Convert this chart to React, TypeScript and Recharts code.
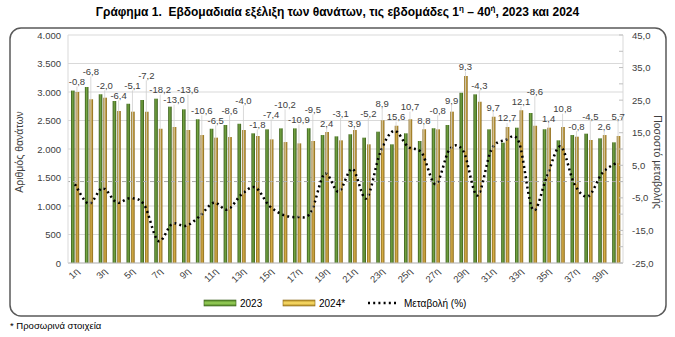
import React from "react";
import { ComposedChart, Bar, Line, XAxis, YAxis, CartesianGrid, ReferenceLine } from "recharts";

const weeks = ["1η","2η","3η","4η","5η","6η","7η","8η","9η","10η","11η","12η","13η","14η","15η","16η","17η","18η","19η","20η","21η","22η","23η","24η","25η","26η","27η","28η","29η","30η","31η","32η","33η","34η","35η","36η","37η","38η","39η","40η"];
const deaths2023 = [3025,3088,2959,2842,2795,2860,2883,2743,2696,2520,2357,2421,2444,2275,2345,2362,2362,2362,2245,2222,2257,2199,2304,2082,2275,2140,2362,2421,2988,2959,2345,2111,2374,2630,2345,2152,2245,2269,2187,2117];
const deaths2024 = [3000,2871,2900,2667,2655,2655,2357,2386,2333,2245,2199,2210,2333,2228,2169,2122,2099,2140,2298,2152,2333,2082,2503,2410,2520,2345,2345,2655,3281,2830,2567,2386,2678,2410,2374,2386,2216,2158,2245,2228];
const pctChange = [-0.8,-6.8,-2.0,-6.4,-5.1,-7.2,-18.2,-13.0,-13.6,-10.6,-6.5,-8.6,-4.0,-1.8,-7.4,-10.2,-10.9,-9.5,2.4,-3.1,3.9,-5.2,8.9,15.6,10.7,8.8,-0.8,9.9,9.3,-4.3,9.7,12.7,12.1,-8.6,1.4,10.8,-0.8,-4.5,2.6,5.7];
const leftTicks = [0,500,1000,1500,2000,2500,3000,3500,4000];
const rightTicks = [-25,-20,-15,-10,-5,0,5,10,15,20,25,30,35,40,45];
const rightLabelled = [-25,-15,-5,5,15,25,35,45];

const W = 675, H = 337;
const PL = 68, PR = 623, PT = 35, PB = 263;
const LW = 50, RW = 45, XH = 30;
const FONT = "'Liberation Sans', Arial, sans-serif";
const TXT = "#404040";
const LABEL_SEP = 10;

const data = weeks.map((w, i) => ({ week: w, d2023: deaths2023[i], d2024: deaths2024[i], pct: pctChange[i] }));

const yLeft = (v: number) => PB - (v / 4000) * (PB - PT);

// Stagger data labels (centre y) so that neighbouring labels do not collide.
const labelY: number[] = [];
weeks.forEach((_, i) => {
  const top = yLeft(Math.max(deaths2023[i], deaths2024[i]));
  let y = top - 9;
  if (i > 0) {
    const prev = labelY[i - 1];
    if (Math.abs(y - prev) < LABEL_SEP) {
      if (prev + LABEL_SEP <= top - 5) y = prev + LABEL_SEP;
      else y = prev - LABEL_SEP;
    }
  }
  labelY.push(y);
});

function catmullRom(context: any) {
  let pts: number[][] = [];
  return {
    areaStart() {},
    areaEnd() {},
    lineStart() { pts = []; },
    point(x: number, y: number) { pts.push([+x, +y]); },
    lineEnd() {
      if (!pts.length) return;
      context.moveTo(pts[0][0], pts[0][1]);
      for (let i = 0; i < pts.length - 1; i++) {
        const p0 = pts[i - 1] || pts[i];
        const p1 = pts[i];
        const p2 = pts[i + 1];
        const p3 = pts[i + 2] || p2;
        const c1x = p1[0] + (p2[0] - p0[0]) / 6;
        const c1y = p1[1] + (p2[1] - p0[1]) / 6;
        const c2x = p2[0] - (p3[0] - p1[0]) / 6;
        const c2y = p2[1] - (p3[1] - p1[1]) / 6;
        context.bezierCurveTo(c1x, c1y, c2x, c2y, p2[0], p2[1]);
      }
    },
  };
}

const fmtThousands = (v: number) =>
  v >= 1000 ? `${Math.floor(v / 1000)}.${String(v % 1000).padStart(3, "0")}` : String(v);
const fmtPct = (v: number) => v.toFixed(1).replace(".", ",");

const LabelDot = (props: any) => {
  const { cx, cy, payload } = props;
  const idx = payload ? weeks.indexOf(payload.week) : -1;
  if (cx == null || cy == null || idx < 0) return <g key={`ld${props.index}`} />;
  const ly = labelY[idx];
  const lx = cx + 2;
  return (
    <g key={`ld${idx}`}>
      <line x1={lx} x2={lx} y1={ly + 5} y2={cy} stroke="#cfcfcf" strokeWidth={0.8} />
      <text x={lx} y={ly + 3.5} textAnchor="middle" fontSize={9.5} fontFamily={FONT} fill={TXT}>
        {fmtPct(payload.pct)}
      </text>
    </g>
  );
};

const LeftTick = (props: any) => {
  const { y, payload } = props;
  return (
    <text x={PL - 7} y={y + 3.5} textAnchor="end" fontSize={9.5} fontFamily={FONT} fill={TXT}>
      {fmtThousands(payload.value)}
    </text>
  );
};

const RightTick = (props: any) => {
  const { y, payload } = props;
  const v = payload.value;
  return (
    <g>
      <line x1={PR - 4} x2={PR} y1={y} y2={y} stroke="#bfbfbf" strokeWidth={1} />
      {rightLabelled.includes(v) && (
        <text x={PR + 9} y={y + 3.5} textAnchor="start" fontSize={9.5} fontFamily={FONT} fill={TXT}>
          {fmtPct(v)}
        </text>
      )}
    </g>
  );
};

const XTick = (props: any) => {
  const { x, payload } = props;
  return (
    <text
      transform={`translate(${x + 5},${PB + 9}) rotate(-45)`}
      textAnchor="end"
      fontSize={9.5}
      fontFamily={FONT}
      fill={TXT}
    >
      {payload.value}
    </text>
  );
};

export default function App() {
  return (
    <div style={{ position: "absolute", left: 0, top: 0, width: W, height: H, background: "#fff", fontFamily: FONT }}>
      <svg width={W} height={H} style={{ position: "absolute", left: 0, top: 0 }}>
        <rect x={10} y={28} width={656} height={288} rx={11} ry={11} fill="none" stroke="#595959" strokeWidth={1.5} />
      </svg>
      <div
        style={{
          position: "absolute",
          left: 0,
          top: 4,
          width: W,
          textAlign: "center",
          fontSize: 12,
          fontWeight: "bold",
          color: "#000",
          whiteSpace: "nowrap",
        }}
      >
        Γράφημα 1.&nbsp; Εβδομαδιαία εξέλιξη των θανάτων, τις εβδομάδες 1<sup style={{ fontSize: 8 }}>η</sup> – 40<sup style={{ fontSize: 8 }}>ή</sup>, 2023 και 2024
      </div>
      <div style={{ position: "absolute", left: 0, top: 0 }}>
        <ComposedChart
          width={W}
          height={H}
          data={data}
          margin={{ top: PT, right: W - PR - RW, bottom: H - PB - XH, left: PL - LW }}
          barGap={1}
          barSize={3.6}
        >
          <defs>
            <linearGradient id="g23" x1="0" y1="0" x2="1" y2="0">
              <stop offset="0%" stopColor="#375a1b" />
              <stop offset="45%" stopColor="#74a542" />
              <stop offset="100%" stopColor="#375a1b" />
            </linearGradient>
            <linearGradient id="g24" x1="0" y1="0" x2="1" y2="0">
              <stop offset="0%" stopColor="#87671b" />
              <stop offset="45%" stopColor="#d6ae48" />
              <stop offset="100%" stopColor="#87671b" />
            </linearGradient>
          </defs>
          <CartesianGrid yAxisId="left" vertical={false} stroke="#d9d9d9" />
          <XAxis
            dataKey="week"
            height={XH}
            interval={1}
            tickLine={false}
            axisLine={{ stroke: "#bfbfbf" }}
            tick={<XTick />}
          />
          <YAxis
            yAxisId="left"
            width={LW}
            domain={[0, 4000]}
            ticks={leftTicks}
            interval={0}
            tickLine={false}
            axisLine={{ stroke: "#d9d9d9" }}
            tick={<LeftTick />}
          />
          <YAxis
            yAxisId="right"
            orientation="right"
            width={RW}
            domain={[-25, 45]}
            ticks={rightTicks}
            interval={0}
            tickLine={false}
            axisLine={{ stroke: "#d9d9d9" }}
            tick={<RightTick />}
          />
          <ReferenceLine yAxisId="right" y={0} stroke="#a6a6a6" strokeDasharray="4 3" strokeWidth={1} />
          <Bar yAxisId="left" dataKey="d2023" fill="url(#g23)" isAnimationActive={false} />
          <Bar yAxisId="left" dataKey="d2024" fill="url(#g24)" isAnimationActive={false} />
          <Line
            yAxisId="right"
            dataKey="pct"
            type={catmullRom as any}
            stroke="#000"
            strokeWidth={2.5}
            strokeDasharray="2 3.2"
            dot={LabelDot}
            activeDot={false}
            isAnimationActive={false}
          />
        </ComposedChart>
      </div>
      <svg width={W} height={H} style={{ position: "absolute", left: 0, top: 0, pointerEvents: "none" }}>
        <text
          transform={`translate(23,152) rotate(-90)`}
          textAnchor="middle"
          fontSize={10.5}
          fontFamily={FONT}
          fill={TXT}
        >
          Αριθμός θανάτων
        </text>
        <text
          transform={`translate(654,162) rotate(90)`}
          textAnchor="middle"
          fontSize={10.5}
          fontFamily={FONT}
          fill={TXT}
        >
          Ποσοστό μεταβολής
        </text>
        <defs>
          <linearGradient id="lg23" x1="0" y1="0" x2="0" y2="1">
            <stop offset="0%" stopColor="#4f7f26" />
            <stop offset="50%" stopColor="#9ad35a" />
            <stop offset="100%" stopColor="#4f7f26" />
          </linearGradient>
          <linearGradient id="lg24" x1="0" y1="0" x2="0" y2="1">
            <stop offset="0%" stopColor="#b08a25" />
            <stop offset="50%" stopColor="#ffe16a" />
            <stop offset="100%" stopColor="#b08a25" />
          </linearGradient>
        </defs>
        <rect x={204} y={300} width={32} height={6} fill="url(#lg23)" stroke="#3a5f1d" strokeWidth={0.6} />
        <text x={240} y={307} fontSize={10} fontFamily={FONT} fill="#000">2023</text>
        <rect x={283} y={300} width={32} height={6} fill="url(#lg24)" stroke="#8a6a1c" strokeWidth={0.6} />
        <text x={319} y={307} fontSize={10} fontFamily={FONT} fill="#000">2024*</text>
        <line x1={368} x2={398} y1={303} y2={303} stroke="#000" strokeWidth={2.5} strokeDasharray="2 3.2" />
        <text x={404} y={307} fontSize={10} fontFamily={FONT} fill="#000">Μεταβολή (%)</text>
        <text x={10} y={329} fontSize={9.5} fontFamily={FONT} fill="#000">* Προσωρινά στοιχεία</text>
      </svg>
    </div>
  );
}
